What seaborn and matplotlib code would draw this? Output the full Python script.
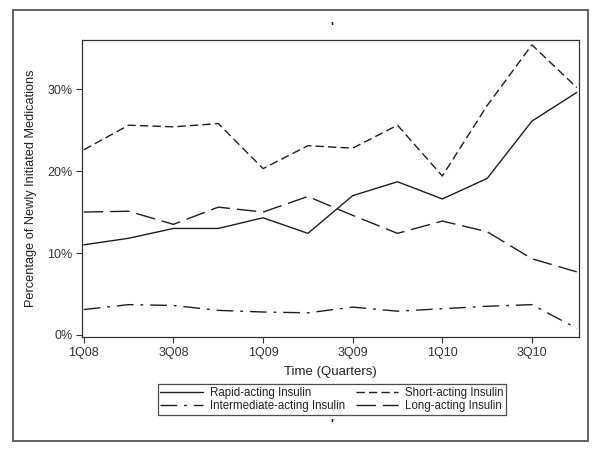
import numpy as np
import pandas as pd
import matplotlib
matplotlib.use("Agg")
import matplotlib.pyplot as plt
import seaborn as sns
from matplotlib.patches import Rectangle

quarters = ["1Q08", "2Q08", "3Q08", "4Q08", "1Q09", "2Q09",
            "3Q09", "4Q09", "1Q10", "2Q10", "3Q10", "4Q10"]
rapid = [11.0, 11.8, 13.0, 13.0, 14.3, 12.4, 17.0, 18.7, 16.6, 19.1, 26.1, 29.6]
short = [22.6, 25.6, 25.4, 25.8, 20.3, 23.1, 22.8, 25.6, 19.4, 28.0, 35.4, 30.2]
intermediate = [3.1, 3.7, 3.6, 3.0, 2.8, 2.7, 3.4, 2.9, 3.2, 3.5, 3.7, 0.8]
long_acting = [15.0, 15.1, 13.5, 15.6, 15.0, 16.9, 14.6, 12.4, 13.9, 12.6, 9.3, 7.7]
series_names = ["Rapid-acting Insulin", "Short-acting Insulin",
                "Intermediate-acting Insulin", "Long-acting Insulin"]
y_ticks = [0, 10, 20, 30]
x_tick_labels = ["1Q08", "3Q08", "1Q09", "3Q09", "1Q10", "3Q10"]

sns.set_theme(style="white")
plt.rcParams["font.family"] = ["Liberation Sans", "DejaVu Sans"]

frames = []
for name, vals in zip(series_names, [rapid, short, intermediate, long_acting]):
    frames.append(pd.DataFrame({"q": np.arange(len(quarters)), "pct": vals,
                                "series": name}))
df = pd.concat(frames, ignore_index=True)

fig = plt.figure(figsize=(6.0, 4.51), dpi=100)
ax = fig.add_axes([82/600, 1-337/451, (579-82)/600, (337-40)/451])

dashes = {
    "Rapid-acting Insulin": "",
    "Short-acting Insulin": (6, 3),
    "Intermediate-acting Insulin": (12, 5, 2, 5),
    "Long-acting Insulin": (14, 5),
}
sns.lineplot(data=df, x="q", y="pct", style="series", dashes=dashes,
             color="#1e1e1e", linewidth=1.0, ax=ax, legend=True,
             style_order=series_names)

ax.set_xlim(-0.04, 11.05)
ax.set_ylim(-0.25, 36.0)
ax.set_xticks(np.arange(0, 12, 2))
ax.set_xticklabels(x_tick_labels)
ax.set_yticks(y_ticks)
ax.set_yticklabels([f"{v}%" for v in y_ticks])
ax.tick_params(axis="both", which="major", direction="out", length=4,
               width=0.8, color="#333333", labelsize=9, labelcolor="#333333",
               bottom=True, left=True, pad=3)
for sp in ax.spines.values():
    sp.set_color("#333333")
    sp.set_linewidth(0.9)
ax.set_xlabel("Time (Quarters)", fontsize=9.5, color="#222222", labelpad=5)
ax.set_ylabel("Percentage of Newly Initiated Medications", fontsize=9.2,
              color="#222222", labelpad=7)

handles, labels = ax.get_legend_handles_labels()
ax.get_legend().remove()
# matplotlib fills legend columns first; reorder so rows read
# Rapid | Short  /  Intermediate | Long
order = [0, 2, 1, 3]
leg = fig.legend([handles[i] for i in order], [labels[i] for i in order],
                 ncol=2, loc="center", bbox_to_anchor=(332/600, 1-399.5/451),
                 fontsize=8.3, frameon=True, fancybox=False, handlelength=3.7,
                 handletextpad=0.6, columnspacing=0.9, labelspacing=0.15,
                 borderpad=0.25, borderaxespad=0)
leg.get_frame().set_edgecolor("#222222")
leg.get_frame().set_linewidth(0.9)
for t in leg.get_texts():
    t.set_color("#222222")

fig.patches.append(Rectangle((13/600, 1-441/451), (588-13)/600, (441-10)/451,
                             transform=fig.transFigure, fill=False,
                             edgecolor="#555555", linewidth=1.3))
fig.text(332/600, 1-28/451, "'", ha="center", va="center", fontsize=9,
         fontweight="bold", color="#111111")
fig.text(332/600, 1-425/451, "'", ha="center", va="center", fontsize=9,
         fontweight="bold", color="#111111")

fig.savefig("out.png", dpi=100)
